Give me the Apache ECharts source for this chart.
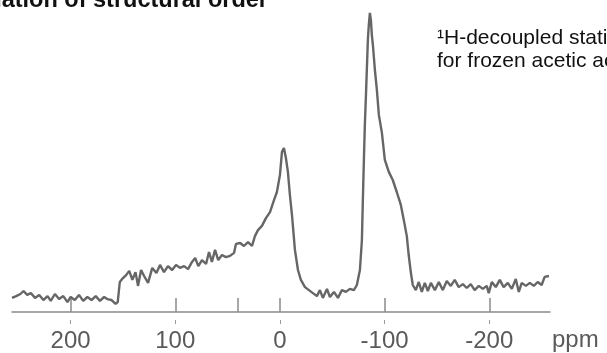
<!DOCTYPE html>
<html>
<head>
<meta charset="utf-8">
<title>acetic acid 13C static spectrum</title>
<script src="https://cdn.jsdelivr.net/npm/echarts@6/dist/echarts.min.js"></script>
<style>
  html, body { margin: 0; padding: 0; background: #fff; }
  #main { width: 607px; height: 353px; }
</style>
</head>
<body>
<div id="main"></div>
<script>
// chemical shift (ppm) of each traced point, left to right
var shift = [
  256, 252, 248, 245, 241.5, 238, 234, 230, 226, 222, 219, 215, 211, 207, 203, 200,
  196, 192, 188, 184, 180, 176, 172, 168, 165, 161, 157, 155, 153, 150, 147, 144,
  141, 138, 135.6, 132.7, 129.8, 126, 122, 118, 114.6, 110.8, 107, 103, 99.3, 95.5,
  91.6, 87.8, 84, 81, 78, 74.5, 70.6, 67.8, 65, 62, 59, 55.4, 51.6, 47.7, 43.9, 42,
  38, 34.4, 30.5, 26.7, 23.9, 21, 17.2, 13.4, 9.5, 5.7, 2.9, 0, -1.9, -3.8, -5.7,
  -7.6, -9.5, -11.5, -14.3, -17.2, -20, -23.9, -27.7, -31.5, -35.3, -38.2, -41,
  -44.9, -47.7, -51.6, -55.4, -59.2, -63, -66.8, -70.6, -73.5, -76.4, -78.3, -79.2,
  -80.2, -81.1, -82, -83, -84, -84.9, -85.9, -86.9, -87.8, -88.8, -90.7, -92.6,
  -94.5, -97.4, -100.2, -104, -107.8, -111.6, -115.5, -118.3, -121.2, -123, -125,
  -126.9, -129.8, -132.6, -135.5, -138.4, -141.3, -144.2, -148, -151.8, -155.6,
  -159.4, -163.2, -167, -170.8, -174.7, -178.5, -182.3, -186, -190, -193.8, -197.6,
  -199.5, -202.4, -206.2, -210, -213.7, -217.7, -221.5, -225.3, -228.2, -231,
  -234.9, -238.7, -242.5, -246.3, -250, -252.9, -257
];

// signal intensity (arbitrary units, 0 = axis line)
var intensity = [
  4.7, 5.3, 6.0, 7.0, 5.7, 6.3, 4.7, 5.7, 4.0, 5.3, 3.7, 6.0, 4.3, 5.3, 3.3, 5.0,
  4.0, 5.7, 3.7, 5.0, 4.0, 5.3, 3.7, 5.0, 4.3, 4.0, 2.7, 3.3, 10.0, 11.3, 12.3, 13.7,
  10.7, 13.3, 8.7, 14.0, 12.0, 9.7, 14.7, 13.0, 15.7, 13.3, 15.3, 14.0, 15.7, 14.7,
  15.3, 14.3, 16.7, 18.0, 15.3, 17.3, 16.0, 20.0, 16.7, 20.7, 17.3, 19.0, 18.3, 18.7, 19.7, 22.7,
  23.0, 22.0, 23.3, 22.0, 25.3, 27.3, 28.7, 31.3, 33.3, 37.3, 40.0, 45.7, 53.3, 54.7, 51.3,
  46.7, 39.0, 32.3, 20.7, 14.0, 10.7, 8.3, 7.3, 6.3, 5.3, 7.3, 4.7,
  7.7, 5.0, 6.7, 4.7, 7.3, 6.7, 7.7, 7.3, 9.0, 14.0, 24.0, 37.3,
  50.7, 62.3, 70.7, 80.7, 90.7, 95.7, 99.7, 97.3, 92.3, 89.0, 80.7, 74.0,
  65.7, 59.7, 50.7, 46.7, 44.0, 40.0, 35.7, 30.7, 25.3, 19.0, 13.3,
  9.0, 7.3, 10.0, 6.7, 9.7, 7.0, 9.7, 7.3, 10.0, 7.3,
  10.3, 8.7, 10.7, 8.3, 9.3, 8.0, 9.3, 7.3, 8.7, 7.7, 8.7,
  6.3, 10.0, 8.3, 10.7, 8.3, 9.7, 7.7, 11.0, 6.7, 9.7,
  8.7, 9.7, 8.7, 10.0, 9.0, 11.7, 12.0
];

var labelValues = [200, 100, 0, -100, -200];
var tickValues = [200, 100, 40, 0, -100, -200];

var spectrum = [];
for (var i = 0; i < shift.length; i++) {
  spectrum.push([shift[i], intensity[i]]);
}

var myChart = echarts.init(document.getElementById('main'), null, { renderer: 'canvas' });

var option = {
  backgroundColor: '#ffffff',
  animation: false,
  grid: {
    left: 12,
    right: 57,
    top: 12,
    bottom: 41
  },
  xAxis: [{
    type: 'value',
    inverse: true,
    min: -258,
    max: 256,
    axisLine: {
      lineStyle: { color: '#8a8a8a', width: 1.5 }
    },
    axisTick: {
      inside: true,
      length: 14,
      customValues: tickValues,
      lineStyle: { color: '#8a8a8a', width: 1.5 }
    },
    axisLabel: {
      customValues: labelValues,
      margin: 17,
      color: '#5a5a5a',
      fontSize: 24,
      fontFamily: 'Liberation Sans, Arial, sans-serif'
    },
    splitLine: { show: false }
  }, {
    // short marks under the axis line, above each label
    type: 'value',
    inverse: true,
    position: 'bottom',
    offset: 8,
    min: -258,
    max: 256,
    axisLine: { show: false },
    axisTick: {
      length: 4,
      customValues: labelValues,
      lineStyle: { color: '#9a9a9a', width: 1 }
    },
    axisLabel: { show: false },
    splitLine: { show: false }
  }],
  yAxis: {
    type: 'value',
    min: 0,
    max: 100,
    show: false
  },
  series: [{
    name: 'spectrum',
    type: 'line',
    showSymbol: false,
    smooth: false,
    data: spectrum,
    lineStyle: { color: '#666666', width: 2.4 },
    itemStyle: { color: '#666666' }
  }],
  graphic: [{
    type: 'text',
    x: 268,
    y: 1,
    style: {
      text: 'Determination of structural order',
      fill: '#111',
      font: 'bold 23.5px "Liberation Sans", Arial, sans-serif',
      align: 'right',
      verticalAlign: 'middle'
    }
  }, {
    type: 'text',
    x: 437,
    y: 38,
    style: {
      text: '\u00b9H-decoupled static \u00b9\u00b3C spectrum',
      fill: '#111',
      font: '21px "Liberation Sans", Arial, sans-serif',
      align: 'left',
      verticalAlign: 'middle'
    }
  }, {
    type: 'text',
    x: 437,
    y: 61,
    style: {
      text: 'for frozen acetic acid',
      fill: '#111',
      font: '21px "Liberation Sans", Arial, sans-serif',
      align: 'left',
      verticalAlign: 'middle'
    }
  }, {
    type: 'text',
    x: 552,
    y: 340,
    style: {
      text: 'ppm',
      fill: '#5a5a5a',
      font: '24px "Liberation Sans", Arial, sans-serif',
      align: 'left',
      verticalAlign: 'middle'
    }
  }]
};

myChart.setOption(option);

window.addEventListener('resize', function() {
  myChart.resize();
});
</script>
</body>
</html>
